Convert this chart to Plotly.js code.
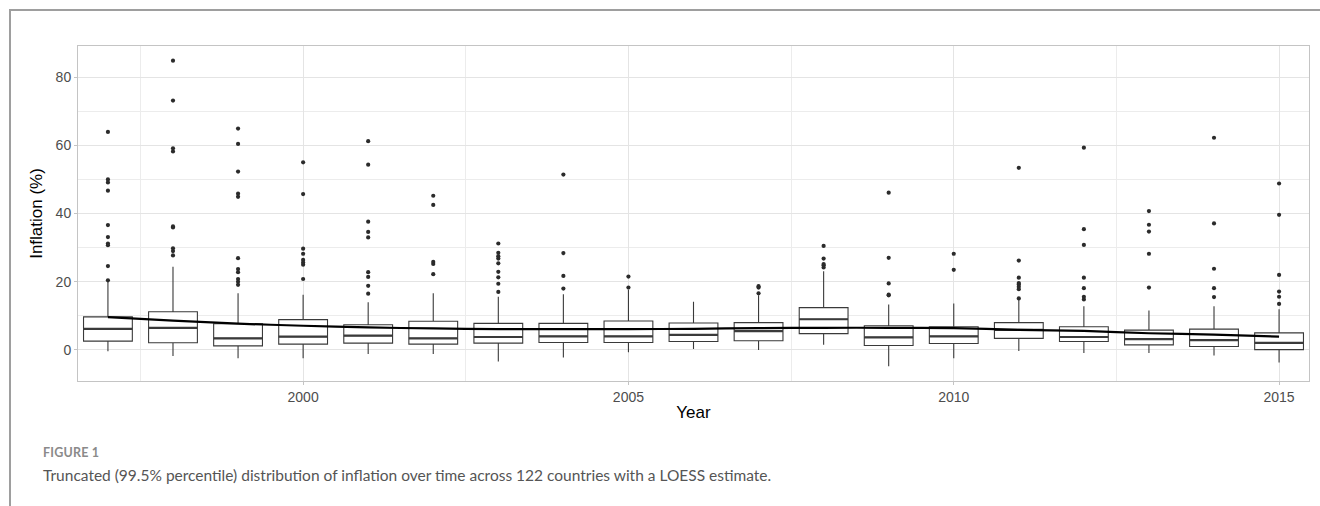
<!DOCTYPE html>
<html>
<head>
<meta charset="utf-8">
<script src="https://cdn.plot.ly/plotly-3.0.1.min.js"></script>
<style>
  html, body { margin: 0; padding: 0; background: #fff; }
  #wrap { position: relative; width: 1320px; height: 506px; overflow: hidden; }
  #chart { position: absolute; left: 0; top: 0; width: 1320px; height: 506px; }
  #frame { position: absolute; left: 9px; top: 9px; width: 1320px; height: 510px;
           border-left: 2px solid #9e9e9e; border-top: 2px solid #9e9e9e; pointer-events: none; }
  #figlabel { position: absolute; left: 43px; top: 445px; font-family: Lato, "Open Sans", sans-serif;
              font-weight: bold; font-size: 12.5px; color: #8a8a8a; letter-spacing: 0.2px; }
  #caption { position: absolute; left: 43px; top: 466px; font-family: Lato, "Open Sans", sans-serif;
             font-size: 15.5px; color: #555555; }
</style>
</head>
<body>
<div id="wrap">
  <div id="chart"></div>
  <div id="frame"></div>
  <div id="figlabel">FIGURE 1</div>
  <div id="caption">Truncated (99.5% percentile) distribution of inflation over time across 122 countries with a LOESS estimate.</div>
</div>
<script>
// ---- Data ----
const years      = [1997, 1998, 1999, 2000, 2001, 2002, 2003, 2004, 2005, 2006, 2007, 2008, 2009, 2010, 2011, 2012, 2013, 2014, 2015];
const lowerWhisk = [-0.4, -1.8, -2.4, -2.4, -1.2, -1.2, -3.4, -2.2, -0.7,  0.3,  0.0,  1.5, -4.8, -2.4, -0.3, -0.9, -0.9, -1.6, -3.7];
const q1         = [ 2.6,  2.1,  1.2,  1.7,  2.0,  1.7,  2.0,  2.2,  2.2,  2.5,  2.7,  4.8,  1.3,  1.9,  3.4,  2.5,  1.5,  1.0,  0.1];
const medians    = [ 6.2,  6.5,  3.4,  3.9,  4.2,  3.4,  3.8,  4.0,  4.0,  4.4,  5.5,  9.0,  3.7,  4.0,  5.9,  3.8,  3.2,  2.9,  2.1];
const q3         = [ 9.7, 11.2,  7.7,  8.9,  7.4,  8.4,  7.8,  7.8,  8.5,  7.9,  8.0, 12.4,  7.1,  6.8,  8.0,  6.8,  5.8,  6.1,  5.0];
const upperWhisk = [20.0, 24.4, 16.6, 16.2, 14.0, 16.6, 15.6, 16.3, 17.6, 14.1, 16.0, 23.1, 13.3, 13.6, 14.8, 12.8, 11.6, 12.8, 11.9];
const outliers = [
  [20.4, 24.6, 30.7, 31.2, 33.1, 36.6, 46.7, 49.1, 50.0, 63.9],
  [27.7, 29.0, 29.8, 35.9, 36.2, 58.2, 59.1, 73.1, 84.8],
  [19.1, 20.0, 20.8, 22.8, 23.7, 26.9, 44.9, 45.8, 52.3, 60.4, 64.9],
  [20.8, 25.0, 25.6, 26.4, 28.2, 29.7, 45.7, 55.0],
  [16.5, 18.8, 21.4, 22.8, 33.0, 34.6, 37.6, 54.3, 61.2],
  [22.2, 25.2, 25.8, 42.5, 45.2],
  [17.0, 19.4, 21.3, 22.9, 25.4, 26.8, 27.5, 28.5, 31.2],
  [18.0, 21.7, 28.4, 51.4],
  [18.3, 21.5],
  [],
  [16.6, 18.3, 18.7],
  [24.2, 24.8, 25.2, 26.8, 30.5],
  [16.0, 16.2, 19.5, 27.0, 46.1],
  [23.5, 28.2],
  [15.1, 17.8, 18.5, 19.2, 19.6, 21.2, 26.2, 53.4],
  [14.8, 15.6, 18.1, 21.2, 30.8, 35.4, 59.3],
  [18.3, 28.2, 34.7, 36.7, 40.7],
  [15.5, 18.1, 23.8, 37.1, 62.2],
  [13.5, 15.6, 17.1, 22.0, 39.6, 48.8]
];
const loess      = [ 9.6,  8.6,  7.7,  7.1,  6.6,  6.3,  6.1,  6.1,  6.1,  6.2,  6.4,  6.5,  6.5,  6.4,  5.9,  5.6,  4.9,  4.5,  3.9];
const xTickVals  = [2000, 2005, 2010, 2015];
const yTickVals  = [0, 20, 40, 60, 80];

// ---- Styling constants ----
const BOX_W = 0.75;
const INK = '#3a3a3a';

// Median segments (thicker, as in ggplot)
const medX = [], medY = [];
years.forEach((yr, i) => {
  medX.push(yr - BOX_W / 2, yr + BOX_W / 2, null);
  medY.push(medians[i], medians[i], null);
});

// Outlier points
const outX = [], outY = [];
outliers.forEach((arr, i) => arr.forEach(v => { outX.push(years[i]); outY.push(v); }));

const traces = [
  {
    type: 'box', x: years, q1: q1, median: medians, q3: q3,
    lowerfence: lowerWhisk, upperfence: upperWhisk,
    width: BOX_W, whiskerwidth: 0, boxpoints: false,
    fillcolor: '#ffffff', line: { color: INK, width: 1.1 },
    hoverinfo: 'skip', showlegend: false
  },
  {
    type: 'scatter', mode: 'lines', x: medX, y: medY,
    line: { color: INK, width: 2.2 }, hoverinfo: 'skip', showlegend: false
  },
  {
    type: 'scatter', mode: 'markers', x: outX, y: outY,
    marker: { color: '#2b2b2b', size: 4.2 }, hoverinfo: 'skip', showlegend: false
  },
  {
    type: 'scatter', mode: 'lines', x: years, y: loess,
    line: { color: '#000000', width: 2.2, shape: 'spline', smoothing: 0.6 },
    hoverinfo: 'skip', showlegend: false
  }
];

const layout = {
  width: 1320, height: 506,
  margin: { l: 78, r: 11, t: 46, b: 125 },
  paper_bgcolor: 'rgba(0,0,0,0)', plot_bgcolor: '#ffffff',
  font: { family: '"Liberation Sans", Arial, sans-serif', color: '#4d4d4d', size: 14 },
  showlegend: false,
  xaxis: {
    range: [1996.54, 2015.46], tickmode: 'array', tickvals: xTickVals,
    ticktext: xTickVals.map(String),
    showgrid: true, gridcolor: '#e4e4e4', gridwidth: 1,
    minor: { tickmode: 'linear', tick0: 1997.5, dtick: 5, showgrid: true, gridcolor: '#ececec', gridwidth: 1, ticks: '' },
    zeroline: false, showline: true, mirror: true, linecolor: '#c4c4c4', linewidth: 1,
    ticks: 'outside', ticklen: 3, tickcolor: '#c4c4c4', tickwidth: 1,
    tickfont: { size: 14, color: '#4d4d4d' },
    title: { text: 'Year', font: { size: 17, color: '#000000' }, standoff: 2 },
    automargin: false
  },
  yaxis: {
    range: [-9.1, 89.1], tickmode: 'array', tickvals: yTickVals,
    showgrid: true, gridcolor: '#e4e4e4', gridwidth: 1,
    minor: { tickmode: 'linear', tick0: 10, dtick: 20, showgrid: true, gridcolor: '#ececec', gridwidth: 1, ticks: '' },
    zeroline: false, showline: true, mirror: true, linecolor: '#c4c4c4', linewidth: 1,
    ticks: 'outside', ticklen: 3, tickcolor: '#c4c4c4', tickwidth: 1,
    tickfont: { size: 14, color: '#4d4d4d' },
    title: { text: 'Inflation (%)', font: { size: 17, color: '#000000' }, standoff: 8 },
    automargin: false
  }
};

Plotly.newPlot('chart', traces, layout, { staticPlot: true, displayModeBar: false });
</script>
</body>
</html>
